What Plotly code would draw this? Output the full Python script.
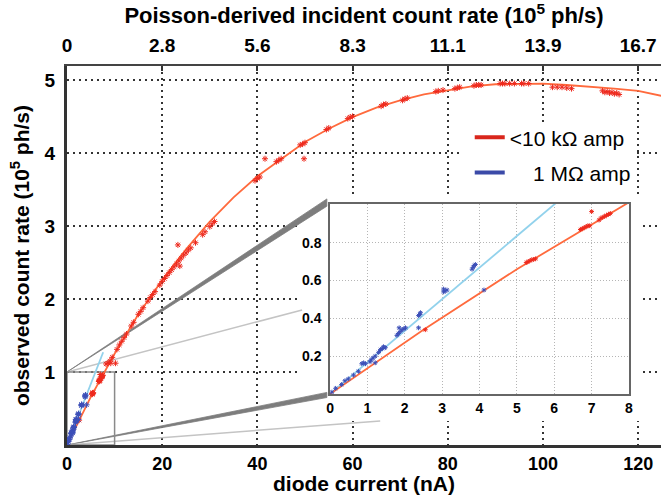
import plotly.graph_objects as go

FONT = "Liberation Sans, Arial, sans-serif"

# fitted curves (diode current nA -> observed rate 1e5 ph/s)
fit_x = [0, 2.5, 5, 10, 15, 20, 25, 30, 35, 40, 45, 50, 55, 60, 65, 70, 75,
         80, 85, 90, 95, 100, 105, 110, 115, 120, 125]
fit_y = [0, 0.34, 0.66, 1.25, 1.79, 2.26, 2.68, 3.06, 3.39, 3.68, 3.91, 4.15,
         4.33, 4.49, 4.62, 4.72, 4.80, 4.86, 4.91, 4.94, 4.95, 4.95, 4.93,
         4.91, 4.88, 4.85, 4.78]
blue_fit_x = [0, 7.6]
blue_fit_y = [0, 1.27]

# <10 kOhm amp measurements
red_x = [2.55, 5.25, 5.3, 5.35, 5.4, 5.45, 5.5, 6.7, 6.75, 6.8, 6.85, 6.9, 6.95,
         7.0, 7.2, 7.25, 7.3, 7.35, 7.4, 7.45, 7.5, 8.2, 8.6, 9.2, 10.2,
         9.0, 9.5, 10.5, 11.0, 11.5, 12.0, 12.5, 13.5, 14.0, 15.0, 15.5, 16.0,
         17.0, 17.5, 18.0, 18.5, 19.5, 20.0, 20.5, 21.0, 21.5, 22.0, 22.5, 23.0,
         23.5, 24.0, 24.5, 25.0, 25.5, 26.0, 27.0, 28.5, 29.0, 30.0, 30.5, 31.0,
         23.3, 23.7, 39.5, 40.0, 40.5, 41.6, 44.0, 44.5, 45.0, 49.8, 49.0, 49.5,
         50.0, 54.5, 55.0, 59.0, 59.5, 60.0, 66.0, 66.5, 67.0, 70.5, 71.0, 71.5,
         77.5, 78.0, 79.0, 81.5, 82.0, 82.5, 85.5, 86.0, 86.5, 87.0, 91.0, 91.5,
         92.0, 93.0, 94.0, 95.5, 96.0, 97.0, 102.0, 103.0, 104.0, 105.0, 106.0,
         112.5, 113.0, 113.5, 114.0, 114.5, 115.0, 115.5, 116.0]
red_y = [0.34, 0.695, 0.70, 0.705, 0.71, 0.712, 0.715, 0.87, 0.875, 0.88, 0.885,
         0.89, 0.89, 0.965, 0.92, 0.93, 0.935, 0.94, 0.945, 0.95, 0.955, 1.11,
         1.12, 1.12, 1.12, 1.15, 1.20, 1.31, 1.37, 1.42, 1.47, 1.52, 1.63, 1.68,
         1.79, 1.83, 1.88, 1.97, 2.02, 2.06, 2.10, 2.19, 2.24, 2.28, 2.32, 2.36,
         2.40, 2.44, 2.48, 2.52, 2.56, 2.60, 2.63, 2.67, 2.70, 2.77, 2.88, 2.92,
         2.99, 3.03, 3.06, 2.74, 2.45, 3.62, 3.65, 3.67, 3.92, 3.88, 3.90, 3.92,
         3.92, 4.11, 4.12, 4.14, 4.32, 4.34, 4.47, 4.49, 4.50, 4.64, 4.66, 4.67,
         4.72, 4.74, 4.75, 4.84, 4.85, 4.86, 4.88, 4.89, 4.90, 4.92, 4.93, 4.93,
         4.93, 4.95, 4.95, 4.95, 4.95, 4.95, 4.95, 4.95, 4.95, 4.90, 4.90, 4.90,
         4.89, 4.88, 4.85, 4.83, 4.84, 4.82, 4.83, 4.81, 4.82, 4.80]

# 1 MOhm amp measurements
blue_x = [0.05, 0.15, 0.31, 0.4, 0.49, 0.63, 0.76, 0.85, 0.9, 0.95, 1.07, 1.1,
          1.15, 1.21, 1.21, 1.3, 1.35, 1.4, 1.43, 1.48, 1.79, 1.83, 1.88, 1.93,
          1.98, 2.02, 1.85, 2.37, 2.4, 2.42, 2.37, 3.04, 3.08, 3.13, 3.04, 3.8,
          3.83, 3.86, 3.89, 4.12]
blue_y = [0.01, 0.03, 0.05, 0.07, 0.08, 0.10, 0.12, 0.16, 0.165, 0.16, 0.17,
          0.18, 0.19, 0.20, 0.165, 0.22, 0.235, 0.24, 0.25, 0.245, 0.31, 0.32,
          0.33, 0.34, 0.345, 0.35, 0.35, 0.415, 0.42, 0.43, 0.35, 0.54, 0.545,
          0.55, 0.555, 0.66, 0.67, 0.68, 0.685, 0.55]

bottom_ticks = [0, 20, 40, 60, 80, 100, 120]
top_labels = ["0", "2.8", "5.6", "8.3", "11.1", "13.9", "16.7"]
y_ticks = [1, 2, 3, 4, 5]
inset_x_ticks = [0, 1, 2, 3, 4, 5, 6, 7, 8]
inset_y_ticks = [0.2, 0.4, 0.6, 0.8]

RED_LINE = "#ff6a3d"
RED_PTS = "#ee2a1e"
BLUE_LINE = "#92d2ec"
BLUE_PTS = "#3c4fb8"

fig = go.Figure()

for xa, ya, sz in [("x", "y", 5), ("x3", "y3", 4)]:
    fig.add_trace(go.Scatter(x=blue_fit_x, y=blue_fit_y, mode="lines", xaxis=xa, yaxis=ya,
                             line=dict(color=BLUE_LINE, width=1.8), showlegend=False))
    fig.add_trace(go.Scatter(x=fit_x, y=fit_y, mode="lines", xaxis=xa, yaxis=ya,
                             line=dict(color=RED_LINE, width=1.8), showlegend=False))
    fig.add_trace(go.Scatter(x=red_x, y=red_y, mode="markers", xaxis=xa, yaxis=ya,
                             marker=dict(symbol="asterisk-open", size=sz, color=RED_PTS,
                                         line=dict(color=RED_PTS, width=1)),
                             showlegend=False))
    fig.add_trace(go.Scatter(x=blue_x, y=blue_y, mode="markers", xaxis=xa, yaxis=ya,
                             marker=dict(symbol="asterisk-open", size=sz, color=BLUE_PTS,
                                         line=dict(color=BLUE_PTS, width=1)),
                             showlegend=False))

# legend entries
fig.add_trace(go.Scatter(x=[None], y=[None], mode="lines", name="&lt;10 kΩ amp",
                         line=dict(color="#d9261c", width=4), legendgroup="a"))
fig.add_trace(go.Scatter(x=[None], y=[None], mode="lines",
                         name="\u00a0\u00a0\u00a0 1 MΩ amp",
                         line=dict(color="#3b4aa8", width=4), legendgroup="b"))
# carrier for the top axis
fig.add_trace(go.Scatter(x=[None], y=[None], xaxis="x2", yaxis="y",
                         showlegend=False, hoverinfo="skip"))

shapes = [
    # white areas hiding the grid behind inset and legend
    dict(type="rect", x0=48.5, x1=120.8, y0=0.33, y1=3.40, fillcolor="white",
         line=dict(width=0)),
    dict(type="rect", x0=83, x1=119.5, y0=3.40, y1=4.42, fillcolor="white",
         line=dict(width=0)),
    # zoom projection lines
    dict(type="path", path="M 0,1 L 54.6,3.37 L 54.6,3.27 Z", fillcolor="#7d7d7d",
         line=dict(color="#7d7d7d", width=0.8)),
    dict(type="path", path="M 0,0 L 54.6,0.72 L 54.6,0.65 Z", fillcolor="#7d7d7d",
         line=dict(color="#7d7d7d", width=0.8)),
    dict(type="line", x0=0, y0=1, x1=49.4, y1=1.85, line=dict(color="#c4c4c4", width=1.5)),
    dict(type="line", x0=0, y0=0, x1=65.8, y1=0.33, line=dict(color="#c4c4c4", width=1.5)),
    # zoom box
    dict(type="rect", x0=0, x1=10, y0=0, y1=1, line=dict(color="#8a8a8a", width=1.5)),
]
for s in shapes:
    s.update(xref="x", yref="y", layer="between")
fig.update_layout(shapes=shapes)

grid_dash = "2px,4px"
tick_font = dict(family=FONT, size=19, color="black", weight="bold")
bottom_tick_font = dict(family=FONT, size=18, color="black", weight="bold")
title_font = dict(family=FONT, size=21, color="black", weight="bold")
top_title_font = dict(family=FONT, size=22, color="black", weight="bold")
inset_font = dict(family=FONT, size=14, color="black", weight="bold")

fig.update_layout(
    width=661, height=495,
    margin=dict(l=67, r=0, t=66, b=50),
    paper_bgcolor="white", plot_bgcolor="white",
    font=dict(family=FONT, color="black"),
    xaxis=dict(range=[0, 124.8], tickvals=bottom_ticks, tickfont=bottom_tick_font,
               showgrid=True, gridcolor="#333", griddash=grid_dash, gridwidth=1.5,
               showline=True, linecolor="#333", linewidth=3, ticks="",
               ticklabelstandoff=0, zeroline=False, automargin=False,
               title=dict(text="diode current (nA)", font=title_font, standoff=15)),
    xaxis2=dict(range=[0, 124.8], overlaying="x", side="top", anchor="y",
                tickvals=bottom_ticks, ticktext=top_labels, tickfont=tick_font,
                showgrid=False, showline=True, linecolor="#444", linewidth=2,
                ticks="inside", ticklen=5, tickcolor="#333", tickwidth=1.5,
                ticklabelstandoff=4, zeroline=False, automargin=False,
                title=dict(text="Poisson-derived incident count rate (10<sup>5</sup> ph/s)",
                           font=top_title_font, standoff=8)),
    yaxis=dict(range=[0, 5.19], tickvals=y_ticks, tickfont=tick_font,
               showgrid=True, gridcolor="#333", griddash=grid_dash, gridwidth=1.5,
               showline=True, linecolor="#333", linewidth=3, ticks="",
               ticklabelstandoff=5, zeroline=False, automargin=False,
               title=dict(text="observed count rate (10<sup>5</sup> ph/s)",
                          font=title_font, standoff=10)),
    xaxis3=dict(domain=[0.4428, 0.9461], anchor="y3", range=[0, 8],
                tickvals=inset_x_ticks, tickfont=inset_font,
                showgrid=True, gridcolor="#b5b5b5", griddash="1px,2px", gridwidth=1,
                showline=True, mirror=True, linecolor="#666", linewidth=1.5,
                ticks="", ticklabelstandoff=0, zeroline=False, automargin=False),
    yaxis3=dict(domain=[0.1346, 0.6359], anchor="x3", range=[0, 1.005],
                tickvals=inset_y_ticks, tickfont=inset_font,
                showgrid=True, gridcolor="#b5b5b5", griddash="1px,2px", gridwidth=1,
                showline=True, mirror=True, linecolor="#666", linewidth=1.5,
                ticks="", ticklabelstandoff=4, zeroline=False, automargin=False),
    legend=dict(x=0.678, y=0.865, xanchor="left", yanchor="top",
                bgcolor="rgba(0,0,0,0)", font=dict(family=FONT, size=21, color="black"),
                tracegroupgap=5, traceorder="grouped"),
    showlegend=True,
)

fig.write_html("out.html", config={"displayModeBar": False},
               post_script="document.body.style.margin='0';")
